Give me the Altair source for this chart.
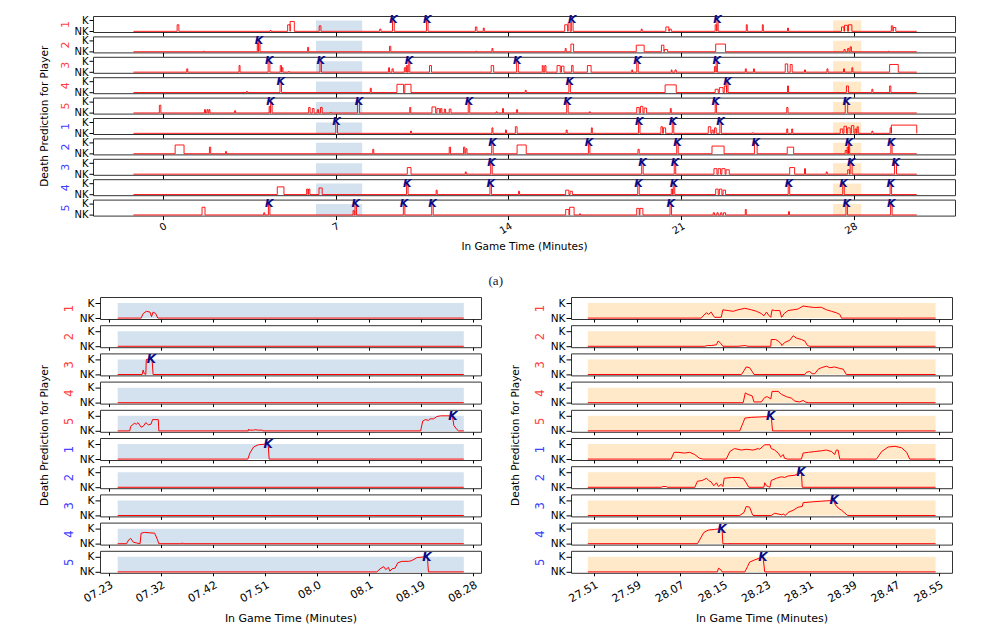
import altair as alt
import pandas as pd

FONT = "DejaVu Sans"

# ---------------- shared labels ----------------
PLAYERS = ["1", "2", "3", "4", "5", "1", "2", "3", "4", "5"]
PLAYER_COLORS = ["#ff4040"] * 5 + ["#4040ff"] * 5
Y_TITLE = "Death Prediction for Player"
X_TITLE = "In Game Time (Minutes)"
PANEL_LABEL = "(a)"

# ---------------- (a) overview: whole game ----------------
TOP_TICKS = [0, 7, 14, 21, 28]
TOP_DOMAIN = [-2.84, 32.1]
TOP_START, TOP_END = -1.2, 30.55
TOP_SHADE_START = [6.2, 27.16]
TOP_SHADE_END = [8.07, 28.3]
TOP_SHADE_COLOR = ["#d3e2ee", "#ffe9c9"]

# spikes per player row: [start, end, height]
TOP_SPIKES = [
    [[0.57, 0.64, 0.6], [4.34, 4.38, 0.08], [5.05, 5.15, 0.6], [5.15, 5.32, 0.9], [6.33, 6.4, 0.5],
     [8.78, 8.83, 0.2], [9.3, 9.37, 1.0], [10.68, 10.74, 1.0], [12.66, 12.72, 0.4], [12.98, 13.02, 0.3],
     [16.28, 16.4, 0.6], [16.42, 16.5, 0.8], [16.55, 16.62, 1.0], [19.38, 19.42, 0.2], [20.38, 20.5, 0.4],
     [20.52, 20.6, 0.2], [22.38, 22.44, 0.6], [22.45, 22.5, 1.0], [23.64, 23.68, 0.6], [24.29, 24.33, 0.6],
     [25.31, 25.35, 0.3], [27.5, 27.6, 0.4], [27.62, 27.75, 0.55], [27.78, 27.92, 0.6], [29.52, 29.58, 0.5],
     [29.6, 29.7, 0.35]],
    [[1.64, 1.68, 0.05], [3.82, 3.86, 0.8], [3.88, 3.93, 1.0], [5.86, 5.9, 0.4], [9.18, 9.23, 0.5],
     [12.68, 12.72, 0.05], [13.33, 13.37, 0.3], [16.3, 16.34, 0.3], [16.53, 16.64, 0.7], [19.18, 19.5, 0.6],
     [20.2, 20.3, 0.6], [20.32, 20.45, 0.2], [22.4, 22.8, 0.7], [27.6, 27.65, 0.2], [27.75, 27.8, 0.3],
     [27.85, 27.9, 0.45], [29.4, 29.43, 0.05]],
    [[0.96, 1.0, 0.3], [3.08, 3.12, 0.6], [4.26, 4.33, 1.0], [4.75, 4.8, 0.6], [4.82, 4.86, 0.4],
     [5.08, 5.12, 0.05], [6.36, 6.42, 1.0], [9.14, 9.18, 0.4], [9.28, 9.33, 0.3], [9.78, 9.84, 0.4],
     [9.86, 9.9, 0.6], [9.94, 10.0, 1.0], [10.8, 10.88, 0.6], [13.3, 13.4, 0.6], [14.33, 14.4, 1.0],
     [15.37, 15.41, 0.6], [15.47, 15.52, 0.6], [15.97, 16.1, 0.6], [16.15, 16.25, 0.55], [16.56, 16.62, 0.6],
     [17.2, 17.35, 0.6], [19.0, 19.03, 0.2], [19.2, 19.26, 1.0], [20.6, 20.63, 0.2], [20.75, 20.8, 0.2],
     [22.35, 22.41, 0.5], [22.42, 22.47, 1.0], [23.6, 23.64, 0.3], [23.93, 23.97, 0.3], [25.22, 25.32, 0.75],
     [25.42, 25.5, 0.7], [26.0, 26.04, 0.2], [26.91, 26.95, 0.3], [27.58, 27.62, 0.3], [27.92, 27.96, 0.4],
     [29.45, 29.8, 0.7]],
    [[3.38, 3.42, 0.1], [4.74, 4.8, 1.0], [8.4, 8.44, 0.4], [9.48, 9.75, 0.75], [9.8, 10.05, 0.75],
     [14.68, 14.72, 0.2], [16.45, 16.51, 1.0], [20.35, 20.8, 0.7], [22.38, 22.5, 0.3], [22.55, 22.7, 0.45],
     [22.75, 22.84, 0.6], [22.85, 22.9, 1.0], [25.31, 25.35, 0.6], [27.7, 27.78, 0.6], [28.73, 28.77, 0.3],
     [29.45, 29.5, 0.6]],
    [[-0.15, -0.09, 0.7], [1.68, 1.72, 0.3], [1.78, 1.82, 0.3], [1.86, 1.9, 0.3], [2.9, 2.94, 0.2],
     [4.3, 4.34, 0.6], [4.36, 4.42, 1.0], [5.9, 5.96, 0.5], [6.05, 6.12, 0.4], [6.25, 6.3, 0.3],
     [6.38, 6.45, 0.5], [6.78, 6.82, 0.05], [7.88, 7.96, 1.0], [10.0, 10.04, 0.5], [10.9, 11.05, 0.55],
     [11.1, 11.2, 0.4], [11.25, 11.3, 0.4], [11.4, 11.45, 0.35], [11.6, 11.67, 0.35], [12.37, 12.43, 1.0],
     [13.5, 13.54, 0.1], [13.76, 13.8, 0.4], [14.33, 14.37, 0.3], [16.36, 16.42, 1.0], [17.28, 17.32, 0.1],
     [19.2, 19.3, 0.5], [19.35, 19.45, 0.6], [19.5, 19.6, 0.45], [20.56, 20.6, 0.4], [22.38, 22.43, 1.0],
     [25.28, 25.33, 0.5], [27.65, 27.75, 1.0]],
    [[7.0, 7.07, 1.0], [10.03, 10.07, 0.2], [13.33, 13.37, 0.5], [13.88, 13.92, 0.3], [14.28, 14.35, 0.6],
     [16.34, 16.38, 0.3], [17.36, 17.4, 0.5], [19.27, 19.33, 1.0], [20.18, 20.25, 0.6], [20.28, 20.37, 0.5],
     [20.64, 20.7, 1.0], [22.1, 22.2, 0.6], [22.25, 22.3, 0.3], [22.35, 22.42, 0.5], [22.57, 22.63, 1.0],
     [23.88, 23.92, 0.05], [25.28, 25.32, 0.4], [25.48, 25.52, 0.4], [27.45, 27.55, 0.4], [27.6, 27.7, 0.65],
     [27.75, 27.85, 0.5], [27.9, 28.0, 0.7], [28.05, 28.1, 0.4], [28.13, 28.18, 0.6], [28.73, 28.77, 0.2],
     [29.47, 29.52, 0.5], [29.52, 30.55, 0.75]],
    [[0.49, 0.85, 0.8], [1.88, 1.93, 0.6], [2.53, 2.57, 0.2], [8.5, 8.54, 0.4], [11.6, 11.65, 0.6],
     [12.18, 12.23, 0.6], [12.27, 12.32, 0.45], [13.32, 13.38, 1.0], [14.35, 14.72, 0.8], [17.24, 17.3, 1.0],
     [19.25, 19.3, 0.4], [20.82, 20.88, 1.0], [22.25, 22.74, 0.7], [23.97, 24.08, 1.0], [25.3, 25.56, 0.6],
     [27.65, 27.72, 0.3], [27.73, 27.78, 0.6], [27.78, 27.83, 1.0], [29.5, 29.55, 1.0]],
    [[9.9, 10.05, 0.6], [12.25, 12.29, 0.2], [13.28, 13.34, 1.0], [19.4, 19.46, 1.0], [20.72, 20.78, 1.0],
     [22.33, 22.45, 0.5], [22.5, 22.6, 0.5], [22.65, 22.78, 0.5], [22.82, 22.95, 0.4], [25.4, 25.6, 0.6],
     [26.0, 26.04, 0.5], [26.88, 26.92, 0.2], [27.75, 27.82, 0.4], [27.85, 27.93, 1.0], [29.65, 29.73, 1.0]],
    [[4.63, 4.9, 0.7], [5.82, 5.87, 0.5], [5.9, 5.95, 0.5], [6.32, 6.45, 0.6], [9.87, 9.93, 1.0],
     [11.07, 11.11, 0.4], [13.25, 13.31, 1.0], [14.41, 14.45, 0.3], [16.32, 16.45, 0.4], [16.5, 16.59, 0.3],
     [19.24, 19.3, 1.0], [20.6, 20.65, 0.5], [20.68, 20.74, 1.0], [22.4, 22.5, 0.5], [22.55, 22.65, 0.5],
     [22.7, 22.8, 0.4], [25.34, 25.4, 1.0], [27.55, 27.61, 1.0], [29.47, 29.53, 1.0]],
    [[1.58, 1.7, 0.7], [4.08, 4.12, 0.2], [4.27, 4.33, 1.0], [7.7, 7.75, 0.4], [7.78, 7.84, 1.0],
     [9.74, 9.8, 1.0], [10.89, 10.95, 1.0], [16.32, 16.45, 0.5], [16.48, 16.66, 0.7], [16.88, 16.92, 0.1],
     [19.2, 19.3, 0.6], [19.33, 19.45, 0.6], [20.55, 20.61, 1.0], [22.3, 22.35, 0.2], [22.45, 22.5, 0.2],
     [22.6, 22.65, 0.2], [22.72, 22.8, 0.2], [23.6, 23.64, 0.5], [25.35, 25.39, 0.3], [27.68, 27.74, 1.0],
     [29.49, 29.55, 1.0]],
]

TOP_KILLS = [
    [9.34, 10.71, 16.59, 22.47],
    [3.89],
    [4.3, 6.39, 9.97, 14.36, 19.23, 22.44],
    [4.77, 16.48, 22.88],
    [4.36, 7.94, 12.4, 16.39, 22.4, 27.71],
    [7.03, 19.3, 20.67, 22.6],
    [13.35, 17.27, 20.85, 24.02, 27.8, 29.52],
    [13.31, 19.43, 20.75, 27.9, 29.7],
    [9.9, 13.28, 19.27, 20.71, 25.37, 27.58, 29.5],
    [4.3, 7.81, 9.77, 10.92, 20.58, 27.71, 29.52],
]

# ---------------- zoom 1: 07.23 - 08.28 (tick index units) ----------------
BL_TICK_LABELS = ["07.23", "07.32", "07.42", "07.51", "08.0", "08.1", "08.19", "08.28"]
BL_DOMAIN = [-0.17, 7.15]
BL_SHADE = [0.17, 6.82]
BL_CURVES = [
    [[0.17, 0], [0.62, 0], [0.66, 0.3], [0.72, 0.45], [0.79, 0.4], [0.82, 0.1], [0.85, 0.4], [0.9, 0.3],
     [0.94, 0], [6.82, 0]],
    [[0.17, 0], [6.82, 0]],
    [[0.17, 0], [0.64, 0], [0.66, 0.3], [0.68, 0.05], [0.71, 0], [0.72, 1.0], [0.83, 1.0], [0.85, 0], [6.82, 0]],
    [[0.17, 0], [6.82, 0]],
    [[0.17, 0], [0.4, 0], [0.42, 0.3], [0.49, 0.5], [0.53, 0.45], [0.56, 0.55], [0.62, 0.25], [0.66, 0.3],
     [0.71, 0.55], [0.76, 0.4], [0.81, 0.45], [0.84, 0.75], [0.95, 0.75], [0.96, 0], [2.68, 0], [2.68, 0.1],
     [2.71, 0.05], [2.78, 0.05], [2.81, 0.08], [2.87, 0.05], [2.95, 0.05], [2.96, 0], [5.99, 0], [6.03, 0.65],
     [6.08, 0.75], [6.14, 0.7], [6.17, 0.8], [6.24, 0.8], [6.3, 0.95], [6.37, 1.0], [6.6, 1.0], [6.63, 0.35],
     [6.69, 0.08], [6.72, 0], [6.82, 0]],
    [[0.17, 0], [2.67, 0], [2.71, 0.4], [2.78, 0.8], [2.87, 0.95], [3.03, 1.0], [3.06, 1.0], [3.08, 0], [6.82, 0]],
    [[0.17, 0], [6.82, 0]],
    [[0.17, 0], [6.82, 0]],
    [[0.17, 0], [0.34, 0], [0.38, 0.25], [0.42, 0.35], [0.47, 0.1], [0.53, 0.05], [0.6, 0], [0.62, 0.7],
     [0.69, 0.75], [0.79, 0.72], [0.88, 0.7], [0.93, 0.3], [0.96, 0], [1.4, 0], [1.41, 0.06], [1.42, 0], [6.82, 0]],
    [[0.17, 0], [5.15, 0], [5.21, 0.2], [5.28, 0.35], [5.32, 0.15], [5.37, 0.3], [5.4, 0.05], [5.44, 0.2],
     [5.5, 0.25], [5.55, 0.6], [5.63, 0.7], [5.76, 0.7], [5.82, 0.75], [5.92, 0.95], [6.08, 1.0], [6.12, 1.0],
     [6.14, 0], [6.82, 0]],
]
BL_KILLS = [[], [], [0.82], [], [6.61], [3.06], [], [], [], [6.11]]

# ---------------- zoom 2: 27.51 - 28.55 (tick index units) ----------------
BR_TICK_LABELS = ["27.51", "27.59", "28.07", "28.15", "28.23", "28.31", "28.39", "28.47", "28.55"]
BR_DOMAIN = [-0.53, 8.3]
BR_SHADE = [-0.14, 7.92]
BR_CURVES = [
    [[-0.14, 0], [2.49, 0], [2.55, 0.2], [2.61, 0.35], [2.66, 0.25], [2.72, 0.4], [2.76, 0.2], [2.8, 0.05],
     [2.95, 0.05], [2.99, 0.55], [3.11, 0.5], [3.23, 0.45], [3.34, 0.55], [3.5, 0.65], [3.65, 0.55], [3.77, 0.45],
     [3.88, 0.3], [3.94, 0.15], [4.0, 0.4], [4.05, 0.2], [4.1, 0.05], [4.13, 0.55], [4.19, 0.5], [4.31, 0.5],
     [4.35, 0.05], [4.41, 0.3], [4.5, 0.5], [4.62, 0.55], [4.73, 0.6], [4.85, 0.8], [4.97, 0.75], [5.12, 0.7],
     [5.27, 0.72], [5.39, 0.55], [5.51, 0.45], [5.62, 0.35], [5.7, 0.25], [5.74, 0], [7.92, 0]],
    [[-0.14, 0], [2.57, 0], [2.63, 0.05], [2.72, 0.05], [2.84, 0.1], [2.88, 0.35], [2.94, 0.2], [2.99, 0],
     [3.34, 0], [3.51, 0.05], [3.57, 0], [4.1, 0], [4.11, 0.45], [4.21, 0.45], [4.27, 0.35], [4.33, 0.2],
     [4.36, 0.05], [4.42, 0.25], [4.54, 0.4], [4.62, 0.7], [4.69, 0.55], [4.81, 0.45], [4.89, 0.35],
     [4.95, 0.05], [5.0, 0], [7.92, 0]],
    [[-0.14, 0], [3.42, 0], [3.48, 0.25], [3.53, 0.5], [3.61, 0.45], [3.67, 0.2], [3.71, 0], [4.89, 0],
     [4.93, 0.15], [5.0, 0.2], [5.06, 0.05], [5.12, 0.05], [5.2, 0.35], [5.27, 0.45], [5.39, 0.55], [5.47, 0.45],
     [5.58, 0.5], [5.7, 0.4], [5.78, 0.35], [5.85, 0], [7.92, 0]],
    [[-0.14, 0], [3.46, 0], [3.51, 0.65], [3.57, 0.55], [3.67, 0.45], [3.71, 0.05], [3.88, 0.05], [3.96, 0.35],
     [4.02, 0.4], [4.1, 0.25], [4.13, 0.75], [4.27, 0.75], [4.35, 0.55], [4.46, 0.4], [4.58, 0.3], [4.66, 0.1],
     [4.77, 0.05], [4.85, 0.15], [4.9, 0.05], [4.97, 0], [7.92, 0]],
    [[-0.14, 0], [3.38, 0], [3.46, 0.55], [3.5, 0.85], [3.65, 0.9], [3.81, 0.92], [4.04, 0.95], [4.11, 1.0],
     [4.14, 0], [7.92, 0]],
    [[-0.14, 0], [1.79, 0], [1.86, 0.45], [1.95, 0.45], [2.1, 0.4], [2.22, 0.45], [2.34, 0.3], [2.45, 0.05],
     [2.53, 0], [3.07, 0], [3.15, 0.5], [3.26, 0.7], [3.42, 0.6], [3.53, 0.65], [3.69, 0.6], [3.81, 0.7],
     [3.84, 0.65], [3.96, 0.95], [4.08, 0.95], [4.11, 0.7], [4.19, 0.6], [4.27, 0.4], [4.33, 0.15], [4.39, 0.3],
     [4.42, 0.05], [4.49, 0], [4.81, 0], [4.85, 0.4], [4.97, 0.45], [5.12, 0.5], [5.27, 0.55], [5.39, 0.6],
     [5.51, 0.5], [5.58, 0.3], [5.62, 0.6], [5.66, 0.6], [5.7, 0], [6.55, 0], [6.67, 0.5], [6.82, 0.8],
     [6.98, 0.85], [7.13, 0.75], [7.25, 0.45], [7.32, 0], [7.92, 0]],
    [[-0.14, 0], [1.56, 0], [1.6, 0.05], [1.68, 0.05], [1.7, 0], [2.34, 0], [2.4, 0.4], [2.51, 0.45],
     [2.61, 0.6], [2.66, 0.45], [2.72, 0.35], [2.78, 0.1], [2.84, 0.3], [2.89, 0.05], [2.95, 0.2], [2.99, 0.05],
     [3.02, 0.6], [3.19, 0.65], [3.34, 0.65], [3.46, 0.6], [3.53, 0.3], [3.59, 0], [3.94, 0], [3.96, 0.3],
     [4.0, 0.1], [4.04, 0.05], [4.08, 0], [4.11, 0.45], [4.23, 0.6], [4.35, 0.7], [4.42, 0.65], [4.5, 0.75],
     [4.66, 0.8], [4.73, 0.9], [4.81, 0.95], [4.83, 0], [7.92, 0]],
    [[-0.14, 0], [3.38, 0], [3.48, 0.2], [3.53, 0.6], [3.61, 0.55], [3.67, 0.1], [3.69, 0], [4.11, 0],
     [4.19, 0.15], [4.27, 0.1], [4.35, 0.05], [4.39, 0.1], [4.44, 0], [4.5, 0.2], [4.62, 0.35], [4.73, 0.55],
     [4.83, 0.6], [4.85, 0.85], [5.04, 0.9], [5.27, 0.95], [5.55, 1.0], [5.6, 0.7], [5.66, 0.5], [5.74, 0.35],
     [5.82, 0.15], [5.88, 0], [7.92, 0]],
    [[-0.14, 0], [2.4, 0], [2.45, 0.25], [2.55, 0.75], [2.65, 0.9], [2.8, 0.95], [2.97, 1.0], [2.99, 0], [7.92, 0]],
    [[-0.14, 0], [2.86, 0], [2.89, 0.25], [2.94, 0.15], [2.97, 0], [3.5, 0], [3.56, 0.35], [3.61, 0.65],
     [3.73, 0.8], [3.88, 0.95], [3.92, 1.0], [3.96, 0], [7.92, 0]],
]
BR_KILLS = [[], [], [], [], [4.1], [], [4.8], [5.57], [2.97], [3.92]]

BLUE_SHADE = "#d3e2ee"
ORANGE_SHADE = "#ffe9c9"


def spikes_to_points(spikes, start, end):
    pts = [[start, 0.0]]
    for t0, t1, h in sorted(spikes):
        pts += [[t0, 0.0], [t0, h], [t1, h], [t1, 0.0]]
    pts.append([end, 0.0])
    return pts


def make_panel(points, kills, shade_df, xdomain, xticks, label_expr, player, pcolor, last,
               width, height, fs, xfs, kfs, xtick_len, ytick_len, title_pad, title_fs,
               xlabel_pad, xtitle_pad, lw):
    xscale = alt.Scale(domain=xdomain, nice=False, zero=False)
    yscale = alt.Scale(domain=[-0.06, 1.4], nice=False, zero=False)
    xkw = dict(values=xticks, labels=last, ticks=True, tickSize=xtick_len, tickColor="#000",
               domain=False, grid=False, labelAngle=-30, labelAlign="right", labelBaseline="top",
               labelFontSize=xfs, labelColor="#000", labelPadding=xlabel_pad, titleFontSize=title_fs,
               titleFontWeight="normal", titleColor="#000", titlePadding=xtitle_pad,
               title=X_TITLE if last else None)
    if label_expr:
        xkw["labelExpr"] = label_expr
    xaxis = alt.Axis(**xkw)
    yaxis = alt.Axis(values=[0, 1], labelExpr="datum.value > 0.5 ? 'K' : 'NK'", tickSize=ytick_len,
                     tickColor="#000", domain=False, grid=False, labelFontSize=fs, labelColor="#000",
                     labelPadding=1, title=player, titleColor=pcolor, titleFontSize=fs + 1,
                     titleFontWeight="normal", titleAngle=270, titlePadding=title_pad)
    line_df = pd.DataFrame({"x": [p[0] for p in points], "y": [p[1] for p in points],
                            "o": list(range(len(points)))})
    rect = alt.Chart(shade_df).mark_rect().encode(
        x=alt.X("x0:Q", scale=xscale, axis=xaxis), x2="x1:Q",
        y=alt.Y("y0:Q", scale=yscale, axis=yaxis), y2="y1:Q",
        color=alt.Color("c:N", scale=None))
    line = alt.Chart(line_df).mark_line(color="#ff0000", strokeWidth=lw).encode(
        x=alt.X("x:Q", scale=xscale, axis=xaxis), y=alt.Y("y:Q", scale=yscale, axis=yaxis),
        order="o:Q")
    layers = [rect, line]
    if kills:
        kdf = pd.DataFrame({"x": kills, "y": [1.0] * len(kills)})
        layers.append(alt.Chart(kdf).mark_text(
            text="K", color="#0b0b82", fontSize=kfs, fontStyle="italic", fontWeight="bold", font=FONT
        ).encode(x=alt.X("x:Q", scale=xscale, axis=xaxis), y=alt.Y("y:Q", scale=yscale, axis=yaxis)))
    return alt.layer(*layers).properties(width=width, height=height)


def title_strip(height):
    """A 1px-wide invisible view whose y-axis title carries the shared y label."""
    return alt.Chart(pd.DataFrame({"v": [0.0]})).mark_point(opacity=0).encode(
        y=alt.Y("v:Q", axis=alt.Axis(title=Y_TITLE, labels=False, ticks=False, domain=False, grid=False,
                                      titleFontSize=10.5, titleFontWeight="normal", titleColor="#000",
                                      titleFont=FONT, titlePadding=0))
    ).properties(width=1, height=height, view=alt.ViewBackground(strokeOpacity=0))


# ---- top overview
top_shade = pd.DataFrame({"x0": TOP_SHADE_START, "x1": TOP_SHADE_END, "y0": [0, 0], "y1": [1, 1],
                          "c": TOP_SHADE_COLOR})
top_panels = []
for r in range(10):
    pts = spikes_to_points(TOP_SPIKES[r], TOP_START, TOP_END)
    top_panels.append(make_panel(pts, TOP_KILLS[r], top_shade, TOP_DOMAIN, TOP_TICKS, None,
                                 PLAYERS[r], PLAYER_COLORS[r], r == 9, 862, 16, 10, 10, 11, 4, 4, 3, 10.5,
                                 1, 6, 0.9))
top_stack = alt.vconcat(*top_panels, spacing=4.4, bounds="flush")
top = alt.hconcat(title_strip(10 * 16 + 9 * 4.4), top_stack, spacing=6)

# ---- bottom zooms
bl_shade = pd.DataFrame({"x0": [BL_SHADE[0]], "x1": [BL_SHADE[1]], "y0": [0], "y1": [1], "c": [BLUE_SHADE]})
br_shade = pd.DataFrame({"x0": [BR_SHADE[0]], "x1": [BR_SHADE[1]], "y0": [0], "y1": [1], "c": [ORANGE_SHADE]})
bl_expr = "[" + ",".join("'%s'" % s for s in BL_TICK_LABELS) + "][datum.value]"
br_expr = "[" + ",".join("'%s'" % s for s in BR_TICK_LABELS) + "][datum.value]"

bl_panels, br_panels = [], []
for r in range(10):
    bl_panels.append(make_panel(BL_CURVES[r], BL_KILLS[r], bl_shade, BL_DOMAIN, list(range(8)), bl_expr,
                                PLAYERS[r], PLAYER_COLORS[r], r == 9, 381, 22, 10.5, 11, 12, 3, 5, 5, 11,
                                3, 8, 1))
    br_panels.append(make_panel(BR_CURVES[r], BR_KILLS[r], br_shade, BR_DOMAIN, list(range(9)), br_expr,
                                PLAYERS[r], PLAYER_COLORS[r], r == 9, 381, 22, 10.5, 11, 12, 3, 5, 5, 11,
                                3, 8, 1))

BOTTOM_H = 10 * 22 + 9 * 6.2
bl = alt.hconcat(title_strip(BOTTOM_H), alt.vconcat(*bl_panels, spacing=6.2, bounds="flush"), spacing=9)
br = alt.hconcat(title_strip(BOTTOM_H), alt.vconcat(*br_panels, spacing=6.2, bounds="flush"), spacing=9)
bottom = alt.hconcat(bl, br, spacing=28,
                     title=alt.TitleParams(PANEL_LABEL, orient="top", anchor="middle",
                                           font="Liberation Serif", fontWeight="normal", fontSize=13,
                                           color="#14143c", offset=9))

chart = alt.concat(top, bottom, columns=1, spacing=21, align="none").properties(
    padding={"left": 31, "top": 5, "right": 5, "bottom": 2}
).configure(font=FONT).configure_view(stroke="#333333", strokeWidth=1)

chart.save("out.html", embed_options={"renderer": "svg", "actions": False})
